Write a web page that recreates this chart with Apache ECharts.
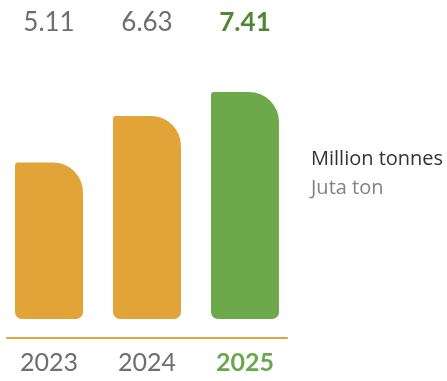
<!DOCTYPE html>
<html>
<head>
<meta charset="utf-8">
<script src="https://cdn.jsdelivr.net/npm/echarts@6/dist/echarts.min.js"></script>
<style>
  html, body { margin: 0; padding: 0; background: #ffffff; }
  #chart { width: 447px; height: 381px; }
</style>
</head>
<body>
<div id="chart"></div>
<script>
// Production volume by year
const years = ['2023', '2024', '2025'];
const volumes = [5.11, 6.63, 7.41];
const unitTitle = 'Million tonnes';
const unitSubtitle = 'Juta ton';

const ORANGE = '#E2A438';
const GREEN = '#6DA84B';
const GREY_TEXT = '#6D6E71';
const LATEST = years.length - 1;

const chart = echarts.init(document.getElementById('chart'), null, { renderer: 'canvas' });

chart.setOption({
  animation: false,
  backgroundColor: '#ffffff',
  title: {
    text: unitTitle,
    subtext: unitSubtitle,
    left: 311,
    top: 149,
    itemGap: 9,
    padding: 0,
    textStyle: { fontFamily: 'Open Sans', fontSize: 20, fontWeight: 'normal', color: '#333333' },
    subtextStyle: { fontFamily: 'Open Sans', fontSize: 20, color: '#808285' }
  },
  grid: [
    { left: 0, width: 294, top: 74, bottom: 43 },
    // baseline rule under the bars
    { left: 7, width: 280, top: 74, bottom: 43 }
  ],
  xAxis: [
    {
      type: 'category',
      gridIndex: 0,
      data: years,
      axisLine: { show: false },
      axisTick: { show: false },
      axisLabel: {
        interval: 0,
        margin: 12,
        fontFamily: 'Lato',
        fontSize: 25,
        color: GREY_TEXT,
        formatter: (v, i) => i === LATEST ? '{hl|' + v + '}' : v,
        rich: { hl: { fontFamily: 'Lato', fontSize: 25, fontWeight: 'bold', color: '#6AA84F' } }
      }
    },
    {
      type: 'category',
      gridIndex: 0,
      position: 'top',
      data: volumes.map(v => v.toFixed(2)),
      axisLine: { show: false },
      axisTick: { show: false },
      axisLabel: {
        interval: 0,
        margin: 38,
        fontFamily: 'Lato',
        fontSize: 26,
        color: GREY_TEXT,
        formatter: (v, i) => i === LATEST ? '{hl|' + v + '}' : v,
        rich: { hl: { fontFamily: 'Lato', fontSize: 26, fontWeight: 'bold', color: '#538536' } }
      }
    },
    {
      type: 'value',
      gridIndex: 1,
      min: 0,
      max: 1,
      axisLine: { show: true, onZero: false, lineStyle: { color: ORANGE, width: 2 } },
      axisTick: { show: false },
      axisLabel: { show: false },
      splitLine: { show: false }
    }
  ],
  yAxis: [
    { type: 'value', gridIndex: 0, min: -0.62, max: 8, show: false },
    { type: 'value', gridIndex: 1, min: 0, max: 1, show: false }
  ],
  series: [
    {
      type: 'bar',
      xAxisIndex: 0,
      yAxisIndex: 0,
      barWidth: 68,
      data: volumes.map((v, i) => ({
        value: v,
        itemStyle: { color: i === LATEST ? GREEN : ORANGE }
      })),
      itemStyle: { borderRadius: [3, 30, 7, 7] }
    }
  ]
});
</script>
</body>
</html>
